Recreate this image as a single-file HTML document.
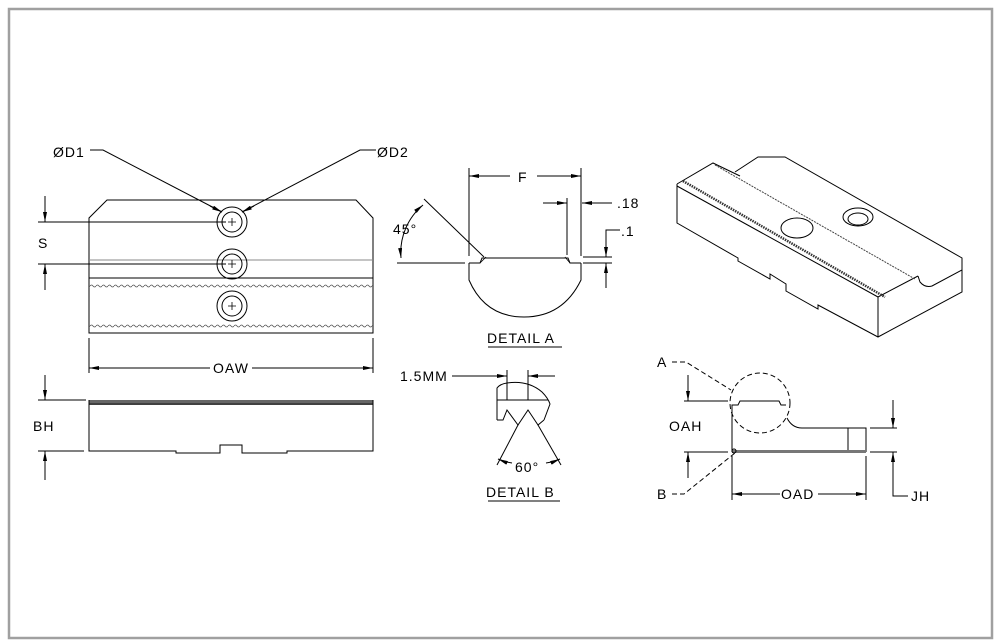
<!DOCTYPE html>
<html><head><meta charset="utf-8"><style>
html,body{margin:0;padding:0;background:#fff;}
svg{display:block;}
text{font-family:"Liberation Sans",sans-serif;font-size:14px;fill:#000;letter-spacing:1px;}
</style></head><body>
<svg width="1001" height="644" viewBox="0 0 1001 644" xmlns="http://www.w3.org/2000/svg">
<defs>
<marker id="ar" viewBox="0 0 10 4" refX="10" refY="2" markerWidth="10" markerHeight="4" markerUnits="userSpaceOnUse" orient="auto-start-reverse"><path d="M0,0 L10,2 L0,4z" fill="#000"/></marker>
<pattern id="wv" width="6" height="4" patternUnits="userSpaceOnUse"><path d="M0,2 Q1.5,0 3,2 T6,2" fill="none" stroke="#555" stroke-width="0.8"/></pattern>
</defs>
<rect x="9" y="9" width="983" height="629" fill="none" stroke="#a0a0a0" stroke-width="2.5"/>
<g fill="none" stroke="#000" stroke-width="1">
<!-- front view -->
<path d="M89,333 L89,218 L107,200 L356,200 L373,218 L373,333 Z"/>
<line x1="89" y1="260" x2="373" y2="260" stroke="#888"/>
<line x1="89" y1="278" x2="373" y2="278"/>
<rect x="89" y="284" width="284" height="4" fill="url(#wv)" stroke="none"/>
<rect x="89" y="324" width="284" height="4" fill="url(#wv)" stroke="none"/>
<circle cx="232" cy="222" r="15"/><circle cx="232" cy="222" r="10"/>
<circle cx="232" cy="264" r="15"/><circle cx="232" cy="264" r="10"/>
<circle cx="232" cy="306" r="15"/><circle cx="232" cy="306" r="10"/>
<path d="M228,222h8M232,218v8M228,264h8M232,260v8M228,306h8M232,302v8" stroke-width="0.8"/>
<!-- S dims -->
<line x1="45" y1="196" x2="45" y2="222" marker-end="url(#ar)"/>
<line x1="38" y1="222" x2="226" y2="222"/>
<line x1="38" y1="264" x2="226" y2="264"/>
<line x1="45" y1="290" x2="45" y2="264" marker-end="url(#ar)"/>
<!-- D1 D2 leaders -->
<polyline points="90,150 103,150 222,212"/>
<line x1="210" y1="206" x2="222" y2="212" marker-end="url(#ar)"/>
<polyline points="376,150 360,150 242,212"/>
<line x1="254" y1="206" x2="242" y2="212" marker-end="url(#ar)"/>
<!-- OAW -->
<line x1="89" y1="338" x2="89" y2="373"/><line x1="373" y1="338" x2="373" y2="373"/>
<line x1="210" y1="368" x2="89" y2="368" marker-end="url(#ar)"/>
<line x1="252" y1="368" x2="373" y2="368" marker-end="url(#ar)"/>
<!-- bottom view -->
<rect x="89" y="400" width="284" height="3" fill="#666" stroke="none"/>
<line x1="89" y1="404" x2="373" y2="404" stroke-width="1.5"/>
<path d="M89,400 L89,451 L176,451 L176,453 L220,453 L220,445 L242,445 L242,453 L287,453 L287,451 L373,451 L373,400"/>
<line x1="45" y1="375" x2="45" y2="400" marker-end="url(#ar)"/>
<line x1="38" y1="400" x2="86" y2="400"/>
<line x1="38" y1="451" x2="84" y2="451"/>
<line x1="45" y1="480" x2="45" y2="451" marker-end="url(#ar)"/>
<!-- detail A -->
<line x1="469" y1="168" x2="469" y2="256"/><line x1="581" y1="168" x2="581" y2="256"/>
<line x1="510" y1="176" x2="469" y2="176" marker-end="url(#ar)"/>
<line x1="537" y1="176" x2="581" y2="176" marker-end="url(#ar)"/>
<path d="M469,263 L469,280 Q485,317 524,317 Q563,317 581,280 L581,263"/>
<path d="M469,263 L480,263 L482,258 L568,258 L570,263 L581,263"/>
<path d="M480,263 L486,257 M570,263 L565,257" stroke-width="0.8"/>
<line x1="424" y1="199" x2="484" y2="257"/>
<line x1="397" y1="263" x2="465" y2="263"/>
<path d="M401,258 A62,62 0 0 1 423,205" marker-start="url(#ar)" marker-end="url(#ar)" stroke-dasharray="0"/>
<line x1="567" y1="198" x2="567" y2="255"/>
<line x1="543" y1="203" x2="567" y2="203" marker-end="url(#ar)"/>
<line x1="612" y1="203" x2="582" y2="203" marker-end="url(#ar)"/>
<line x1="583" y1="257" x2="612" y2="257"/><line x1="583" y1="263" x2="612" y2="263"/>
<polyline points="620,230 606,230 606,257" marker-end="url(#ar)"/>
<line x1="606" y1="288" x2="606" y2="263" marker-end="url(#ar)"/>
<line x1="488" y1="347" x2="562" y2="347"/>
<!-- detail B -->
<line x1="452" y1="376" x2="507" y2="376" marker-end="url(#ar)"/>
<line x1="555" y1="376" x2="528" y2="376" marker-end="url(#ar)"/>
<line x1="507" y1="370" x2="507" y2="400"/><line x1="528" y1="370" x2="528" y2="400"/>
<path d="M497,420 L497,388 Q500,384 507,383 Q528,380 542,392 Q548,398 550,404 L544,420"/>
<line x1="497" y1="400" x2="548" y2="400"/>
<path d="M497,420 L503,420 L507,410 L518,425 L528,410 L538,425 L544,420"/>
<line x1="518" y1="425" x2="497" y2="465"/><line x1="538" y1="425" x2="561" y2="465"/>
<path d="M512,463 Q505,462 498,459" marker-end="url(#ar)"/>
<path d="M546,463 Q553,462 560,459" marker-end="url(#ar)"/>
<line x1="488" y1="501" x2="560" y2="501"/>
<!-- side view -->
<circle cx="760" cy="403" r="30" stroke-dasharray="5,3"/>
<path d="M732,452 L732,405 L738,405 L740,401 L779,401 L781,405 L786,405"/>
<path d="M787,418 Q792,428 802,428 L866,428 L866,452"/>
<line x1="848" y1="428" x2="848" y2="452"/>
<rect x="732" y="450" width="134" height="3" fill="#777" stroke="none"/>
<circle cx="734" cy="451" r="2"/>
<line x1="688" y1="375" x2="688" y2="401" marker-end="url(#ar)"/>
<line x1="684" y1="401" x2="728" y2="401"/>
<line x1="684" y1="452" x2="728" y2="452"/>
<line x1="688" y1="478" x2="688" y2="452" marker-end="url(#ar)"/>
<line x1="870" y1="428" x2="897" y2="428"/><line x1="870" y1="452" x2="897" y2="452"/>
<line x1="893" y1="400" x2="893" y2="428" marker-end="url(#ar)"/>
<polyline points="908,496 893,496 893,452" marker-end="url(#ar)"/>
<line x1="732" y1="456" x2="732" y2="500"/><line x1="866" y1="456" x2="866" y2="500"/>
<line x1="780" y1="494" x2="732" y2="494" marker-end="url(#ar)"/>
<line x1="818" y1="494" x2="866" y2="494" marker-end="url(#ar)"/>
<polyline points="672,362 686,362 731,390" stroke-dasharray="5,3"/>
<polyline points="672,494 684,494 735,453" stroke-dasharray="5,3"/>
<!-- iso view -->
<path d="M677,184 L677,223 L738,258 L738,261 L770,279 L770,274 L786,284 L786,291 L818,309 L818,305 L878,337 L962,292 L962,258"/>
<line x1="677" y1="186" x2="878" y2="297"/>
<line x1="878" y1="297" x2="878" y2="337"/>
<line x1="878" y1="297" x2="918" y2="276"/>
<path d="M677,184 L713,163 L740,176"/>
<path d="M735,172 L758,157 L785,157 L962,258 L962,270 L932,286 Q925,288 920,282 L918,276"/>
<line x1="683" y1="181" x2="885" y2="297" stroke="#333" stroke-width="2.5" stroke-dasharray="1.5,1"/>
<line x1="715" y1="165" x2="915" y2="279" stroke="#444" stroke-dasharray="2,1"/>
<ellipse cx="797" cy="228" rx="16" ry="10"/>
<ellipse cx="858" cy="217" rx="15" ry="9"/>
<ellipse cx="858" cy="219" rx="10" ry="6"/>
</g>
<text x="53" y="157">ØD1</text>
<text x="377" y="157">ØD2</text>
<text x="38" y="248">S</text>
<text x="213" y="373">OAW</text>
<text x="33" y="431">BH</text>
<text x="518" y="182">F</text>
<text x="393" y="234">45°</text>
<text x="617" y="208">.18</text>
<text x="621" y="236">.1</text>
<text x="487" y="343">DETAIL  A</text>
<text x="400" y="381">1.5MM</text>
<text x="515" y="472">60°</text>
<text x="486" y="497">DETAIL  B</text>
<text x="657" y="367">A</text>
<text x="669" y="431">OAH</text>
<text x="657" y="499">B</text>
<text x="781" y="499">OAD</text>
<text x="911" y="501">JH</text>
</svg>
</body></html>
